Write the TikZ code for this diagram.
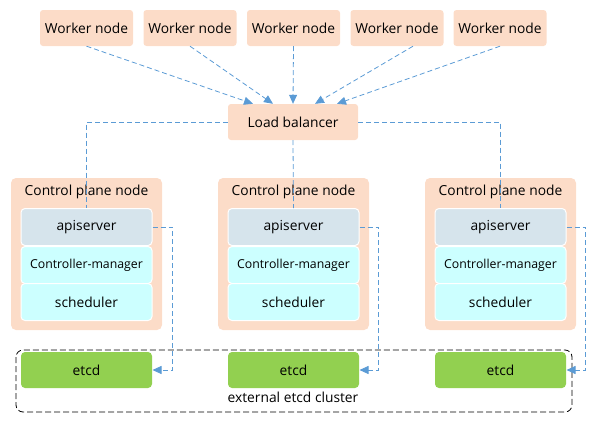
\documentclass[tikz,border=0pt]{standalone}
\usepackage{fontspec}
\setmainfont{Open Sans}
\usepackage{xcolor}
\definecolor{hpeach}{RGB}{252,220,200}
\definecolor{hapi}{RGB}{214,228,236}
\definecolor{hctrl}{RGB}{204,255,255}
\definecolor{hetcd}{RGB}{146,208,80}
\definecolor{hblue}{RGB}{91,155,213}
\usetikzlibrary{arrows.meta}
\tikzset{
  worker/.style={fill=hpeach, rounded corners=3pt, minimum width=93pt, minimum height=36pt, inner sep=0pt},
  plane/.style={fill=hpeach, rounded corners=5pt, minimum width=151pt, minimum height=152pt, inner sep=0pt},
  part/.style={draw=white, line width=1pt, rounded corners=4pt, minimum width=131pt, minimum height=37pt, inner sep=0pt},
  link/.style={hblue, line width=0.8pt, dash pattern=on 5pt off 3pt},
  tip/.style={-{Triangle[width=8pt,length=9pt]}},
}

\begin{document}
\begin{tikzpicture}[x=1pt,y=-1pt,font=\fontsize{13.8}{15}\selectfont]
\useasboundingbox (0,0) rectangle (597,423);
\node [worker](w1) at (86.5,28) {Worker node};
\node [worker](w2) at (190,28) {Worker node};
\node [worker](w3) at (293.5,28) {Worker node};
\node [worker](w4) at (397,28) {Worker node};
\node [worker](w5) at (500,28) {Worker node};
\node [worker, minimum width=130pt](lb) at (293,122) {Load balancer};
% control plane nodes
\node [plane](cp1) at (86.5,254) {};
\node [plane](cp2) at (293.5,254) {};
\node [plane](cp3) at (500.5,254) {};
\node (t1) at (86.5,192) {Control plane node};
\node (t2) at (293.5,192) {Control plane node};
\node (t3) at (500.5,192) {Control plane node};
\node [part, fill=hapi](api1) at (86.5,227) {apiserver};
\node [part, fill=hapi](api2) at (293.5,227) {apiserver};
\node [part, fill=hapi](api3) at (500.5,227) {apiserver};
\node [part, fill=hctrl, font=\fontsize{12.3}{14}\selectfont](cm1) at (86.5,265) {Controller-manager};
\node [part, fill=hctrl, font=\fontsize{12.3}{14}\selectfont](cm2) at (293.5,265) {Controller-manager};
\node [part, fill=hctrl, font=\fontsize{12.3}{14}\selectfont](cm3) at (500.5,265) {Controller-manager};
\node [part, fill=hctrl](sc1) at (86.5,302) {scheduler};
\node [part, fill=hctrl](sc2) at (293.5,302) {scheduler};
\node [part, fill=hctrl](sc3) at (500.5,302) {scheduler};
% etcd cluster
\draw [line width=0.8pt, rounded corners=7pt, dash pattern=on 6pt off 3pt] (16,350) rectangle (572,412);
\node [part, draw=none, fill=hetcd, minimum height=36pt](e1) at (86.5,370) {etcd};
\node [part, draw=none, fill=hetcd, minimum height=36pt](e2) at (293.5,370) {etcd};
\node [part, draw=none, fill=hetcd, minimum height=36pt](e3) at (500.5,370) {etcd};
\node (cl) at (293,397) {external etcd cluster};
% connectors
\draw [link, tip] (w1.south) -- ([xshift=-40pt]lb.north);
\draw [link, tip] (w2.south) -- ([xshift=-20pt]lb.north);
\draw [link, tip] (w3.south) -- (lb.north);
\draw [link, tip] ([xshift=16pt]w4.south) -- ([xshift=22pt]lb.north);
\draw [link, tip] (w5.south) -- ([xshift=44pt]lb.north);
\draw [link] (lb.west) -| (api1.north);
\draw [link] (lb.south) -- (api2.north);
\draw [link] (lb.east) -| (api3.north);
\draw [link, tip] (api1.east) -- ++(20,0) |- (e1.east);
\draw [link, tip] (api2.east) -- ++(19,0) |- (e2.east);
\draw [link, tip] (api3.east) -- ++(19,0) |- (e3.east);
\end{tikzpicture}
\end{document}
